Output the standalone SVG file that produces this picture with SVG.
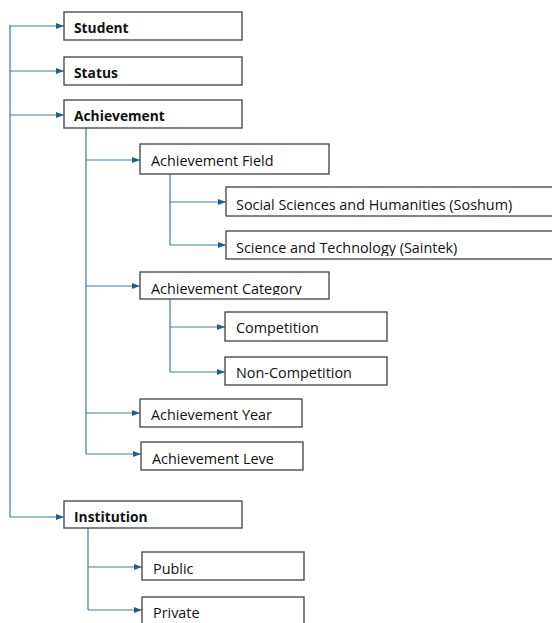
<svg xmlns="http://www.w3.org/2000/svg" width="552" height="623" viewBox="0 0 552 623">
<defs>
<marker id="ah" viewBox="0 0 8 6" refX="8" refY="3" markerWidth="8" markerHeight="6" markerUnits="userSpaceOnUse" orient="auto">
<path d="M0,0 L8,3 L0,6 Z" fill="#1f5f8b"/>
</marker>
<clipPath id="c1"><rect x="226" y="231" width="330" height="25"/></clipPath>
<clipPath id="c2"><rect x="140" y="272" width="189" height="23"/></clipPath>
<clipPath id="c3"><rect x="225" y="312" width="162" height="24"/></clipPath>
<clipPath id="c4"><rect x="225" y="357" width="162" height="24"/></clipPath>
</defs>
<style>
rect.box{fill:#fff;stroke:#404040;stroke-width:1.3}
text{font-family:"Open Sans","Noto Sans","Liberation Sans",sans-serif;font-size:14.4px;fill:#111}
text.b{font-weight:bold;font-size:13.8px}
.con path{fill:none;stroke:#3a7ca5;stroke-width:1.2}
</style>
<rect width="552" height="623" fill="#fff"/>
<g class="con">
<path d="M10,25 V517"/>
<path d="M10,26 H64" marker-end="url(#ah)"/>
<path d="M10,71 H64" marker-end="url(#ah)"/>
<path d="M10,115 H64" marker-end="url(#ah)"/>
<path d="M10,517 H64" marker-end="url(#ah)"/>
<path d="M86,128 V454"/>
<path d="M86,160 H140" marker-end="url(#ah)"/>
<path d="M86,286 H140" marker-end="url(#ah)"/>
<path d="M86,413 H140" marker-end="url(#ah)"/>
<path d="M86,454 H141" marker-end="url(#ah)"/>
<path d="M170,174 V245"/>
<path d="M170,202 H226" marker-end="url(#ah)"/>
<path d="M170,245 H226" marker-end="url(#ah)"/>
<path d="M170,299 V372"/>
<path d="M170,327 H225" marker-end="url(#ah)"/>
<path d="M170,372 H225" marker-end="url(#ah)"/>
<path d="M88,528 V610"/>
<path d="M88,567 H142" marker-end="url(#ah)"/>
<path d="M88,610 H142" marker-end="url(#ah)"/>
</g>
<g id="student"><rect class="box" x="64" y="12" width="178" height="28"/><text class="b" x="74" y="33">Student</text></g>
<g id="status"><rect class="box" x="64" y="57" width="178" height="28"/><text class="b" x="74" y="78">Status</text></g>
<g id="achievement"><rect class="box" x="64" y="100" width="178" height="28"/><text class="b" x="74" y="121">Achievement</text></g>
<g id="field"><rect class="box" x="140" y="144" width="189" height="30"/><text x="151" y="166">Achievement Field</text></g>
<g id="soshum"><rect class="box" x="226" y="187" width="330" height="29"/><text x="236" y="210">Social Sciences and Humanities (Soshum)</text></g>
<g id="saintek"><rect class="box" x="226" y="231" width="330" height="28"/><text x="236" y="253" clip-path="url(#c1)">Science and Technology (Saintek)</text></g>
<g id="category"><rect class="box" x="140" y="272" width="189" height="27"/><text x="151" y="294" clip-path="url(#c2)">Achievement Category</text></g>
<g id="competition"><rect class="box" x="225" y="312" width="162" height="29"/><text x="236" y="333" clip-path="url(#c3)">Competition</text></g>
<g id="noncompetition"><rect class="box" x="225" y="357" width="162" height="28"/><text x="236" y="378" clip-path="url(#c4)">Non-Competition</text></g>
<g id="year"><rect class="box" x="140" y="399" width="162" height="28"/><text x="151" y="420">Achievement Year</text></g>
<g id="level"><rect class="box" x="141" y="442" width="162" height="28"/><text x="152" y="464">Achievement Leve</text></g>
<g id="institution"><rect class="box" x="64" y="501" width="178" height="27"/><text class="b" x="74" y="522">Institution</text></g>
<g id="public"><rect class="box" x="142" y="552" width="162" height="28"/><text x="153" y="574">Public</text></g>
<g id="private"><rect class="box" x="142" y="597" width="162" height="40"/><text x="153" y="618">Private</text></g>
</svg>
